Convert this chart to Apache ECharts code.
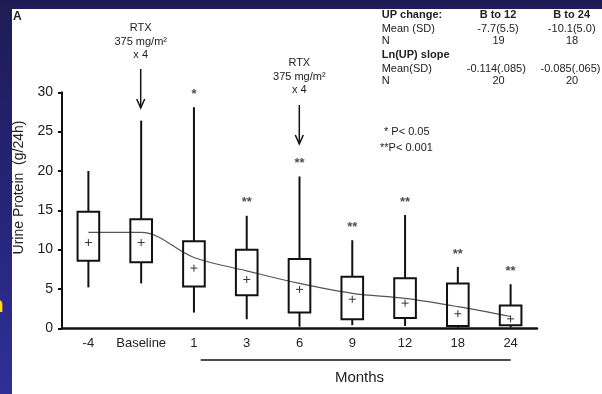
<!DOCTYPE html>
<html>
<head>
    <meta charset="UTF-8">
    <title>Urine Protein</title>
    <script src="https://cdn.jsdelivr.net/npm/echarts@6/dist/echarts.min.js"></script>
    <style>
        html, body { margin: 0; padding: 0; }
        body {
            width: 602px; height: 394px; position: relative; overflow: hidden;
            background: linear-gradient(180deg, #1e1b54 0%, #26257a 55%, #2f3097 100%);
        }
        #panel { position: absolute; left: 12px; top: 9px; width: 590px; height: 385px; background: #fff; }
        #edge { position: absolute; left: -10px; top: 292px; color: #ffe400;
                font: bold 22px 'Liberation Sans', Arial, sans-serif; }
        #main { position: absolute; left: 0; top: 0; width: 602px; height: 394px; }
    </style>
</head>
<body>
<div id="edge">n</div>
<div id="panel"></div>
<div id="main"></div>
<script type="text/javascript">

    // 月份（类别）
    var categories = ['-4', 'Baseline', '1', '3', '6', '9', '12', '18', '24'];
    // 箱线图各部分
    var whiskerHigh = [20.0, 26.4, 28.1, 14.3, 19.3, 11.2, 14.4, 7.8, 5.6];
    var q3 = [14.8, 13.85, 11.05, 10.0, 8.8, 6.55, 6.35, 5.7, 2.9];
    var q1 = [8.6, 8.4, 5.3, 4.2, 2.0, 1.15, 1.3, 0.3, 0.4];
    var whiskerLow = [5.2, 5.7, 2.0, 1.15, 0.2, 0.4, 0.3, 0.1, 0.1];
    var means = [10.9, 10.9, 7.65, 6.2, 4.95, 3.7, 3.2, 1.85, 1.2];
    // 趋势线
    var trend = [12.2, 12.2, 9.0, 7.3, 5.7, 4.45, 3.8, 2.75, 1.5];
    // 显著性标记
    var stars = ['', '', '*', '**', '**', '**', '**', '**', '**'];
    var yTicks = [0, 5, 10, 15, 20, 25, 30];

    var FONT = "'Liberation Sans', Arial, sans-serif";

    function txt(x, y, s, size, bold, align) {
        return {
            type: 'text', x: x, y: y,
            style: {
                text: s, fontSize: size, fontWeight: bold ? 'bold' : 'normal',
                fontFamily: FONT, fill: '#222', align: align || 'left', verticalAlign: 'middle'
            }
        };
    }

    function arrow(x, y1, y2) {
        return {
            type: 'group', children: [
                {type: 'line', shape: {x1: x, y1: y1, x2: x, y2: y2}, style: {stroke: '#111', lineWidth: 1.5}},
                {type: 'polyline', shape: {points: [[x - 4, y2 - 9], [x, y2], [x + 4, y2 - 9]]},
                    style: {stroke: '#111', lineWidth: 1.5, fill: 'none'}}
            ]
        };
    }

    function renderBox(params, api) {
        var i = api.value(0);
        var half = api.size([1, 0])[0] * 0.205;
        var pLo = api.coord([i, api.value(1)]);
        var pQ1 = api.coord([i, api.value(2)]);
        var pQ3 = api.coord([i, api.value(3)]);
        var pHi = api.coord([i, api.value(4)]);
        var pM = api.coord([i, api.value(5)]);
        var x = pHi[0];
        var s = {stroke: '#111', lineWidth: 2};
        var p = {stroke: '#333', lineWidth: 1};
        return {
            type: 'group', children: [
                {type: 'line', shape: {x1: x, y1: pHi[1], x2: x, y2: pQ3[1]}, style: s},
                {type: 'line', shape: {x1: x, y1: pQ1[1], x2: x, y2: pLo[1]}, style: s},
                {type: 'rect', shape: {x: x - half, y: pQ3[1], width: half * 2, height: pQ1[1] - pQ3[1]},
                    style: {stroke: '#111', lineWidth: 2, fill: 'none'}},
                {type: 'line', shape: {x1: x - 3.5, y1: pM[1], x2: x + 3.5, y2: pM[1]}, style: p},
                {type: 'line', shape: {x1: x, y1: pM[1] - 3.5, x2: x, y2: pM[1] + 3.5}, style: p}
            ]
        };
    }

    var boxData = categories.map(function (c, i) {
        return [i, whiskerLow[i], q1[i], q3[i], whiskerHigh[i], means[i]];
    });
    var starData = categories.map(function (c, i) {
        return [i, whiskerHigh[i]];
    });

    var myChart = echarts.init(document.getElementById('main'));
    var option = {
        animation: false,
        grid: {left: 62, top: 92.3, width: 475, height: 236},
        xAxis: {
            type: 'category',
            data: categories,
            boundaryGap: true,
            axisLine: {lineStyle: {color: '#111', width: 2.5}},
            axisTick: {alignWithLabel: true, length: 3, lineStyle: {color: '#111', width: 2}},
            axisLabel: {color: '#222', fontSize: 13, fontFamily: FONT, margin: 9, interval: 0},
            splitLine: {show: false}
        },
        yAxis: {
            type: 'value',
            min: yTicks[0],
            max: yTicks[yTicks.length - 1],
            interval: 5,
            axisLine: {show: true, lineStyle: {color: '#111', width: 2}},
            axisTick: {show: true, length: 4, lineStyle: {color: '#111', width: 2}},
            axisLabel: {color: '#222', fontSize: 14, fontFamily: FONT, margin: 9},
            splitLine: {show: false}
        },
        series: [
            {
                name: 'trend',
                type: 'line',
                data: trend,
                smooth: 0.35,
                symbol: 'none',
                lineStyle: {color: '#555', width: 1.2},
                z: 1
            },
            {
                name: 'box',
                type: 'custom',
                renderItem: renderBox,
                data: boxData,
                encode: {x: 0, y: [1, 2, 3, 4, 5]},
                z: 3
            },
            {
                name: 'stars',
                type: 'scatter',
                data: starData,
                symbolSize: 1,
                itemStyle: {color: 'rgba(0,0,0,0)'},
                label: {
                    show: true, position: 'top', distance: 6,
                    formatter: function (p) { return stars[p.dataIndex]; },
                    color: '#222', fontSize: 13, fontWeight: 'bold', fontFamily: FONT
                }
            }
        ],
        graphic: [
            txt(13, 17, 'A', 12, true),
            {
                type: 'text', x: 19, y: 187.5, rotation: Math.PI / 2,
                style: {text: 'Urine Protein  (g/24h)', fontSize: 14, fontFamily: FONT, fill: '#222',
                    align: 'center', verticalAlign: 'middle'}
            },
            // 第一次 RTX
            txt(140.7, 28, 'RTX', 11, false, 'center'),
            txt(140.7, 42, '375 mg/m²', 11, false, 'center'),
            txt(140.7, 55, 'x 4', 11, false, 'center'),
            arrow(140.7, 69, 108),
            // 第二次 RTX
            txt(299.3, 63, 'RTX', 11, false, 'center'),
            txt(299.3, 77, '375 mg/m²', 11, false, 'center'),
            txt(299.3, 90, 'x 4', 11, false, 'center'),
            arrow(299.3, 105, 144),
            // 右上角表格
            txt(381.7, 15, 'UP change:', 11, true),
            txt(498, 15, 'B to 12', 11, true, 'center'),
            txt(571.7, 15, 'B to 24', 11, true, 'center'),
            txt(381.7, 29, 'Mean (SD)', 11),
            txt(498, 29, '-7.7(5.5)', 11, false, 'center'),
            txt(571.7, 29, '-10.1(5.0)', 11, false, 'center'),
            txt(381.7, 41, 'N', 11),
            txt(498.5, 41, '19', 11, false, 'center'),
            txt(572, 41, '18', 11, false, 'center'),
            txt(381.7, 55, 'Ln(UP) slope', 11, true),
            txt(381.7, 69, 'Mean(SD)', 11),
            txt(496.3, 69, '-0.114(.085)', 11, false, 'center'),
            txt(570.5, 69, '-0.085(.065)', 11, false, 'center'),
            txt(381.7, 81, 'N', 11),
            txt(498.5, 81, '20', 11, false, 'center'),
            txt(572, 81, '20', 11, false, 'center'),
            // 显著性说明
            txt(384, 132, '* P< 0.05', 11),
            txt(380, 148, '**P< 0.001', 11),
            // Months 下划线
            {type: 'line', shape: {x1: 200.7, y1: 360, x2: 510.7, y2: 360}, style: {stroke: '#111', lineWidth: 1.5}},
            txt(359.5, 378, 'Months', 15, false, 'center')
        ]
    };
    myChart.setOption(option);

</script>
</body>
</html>
